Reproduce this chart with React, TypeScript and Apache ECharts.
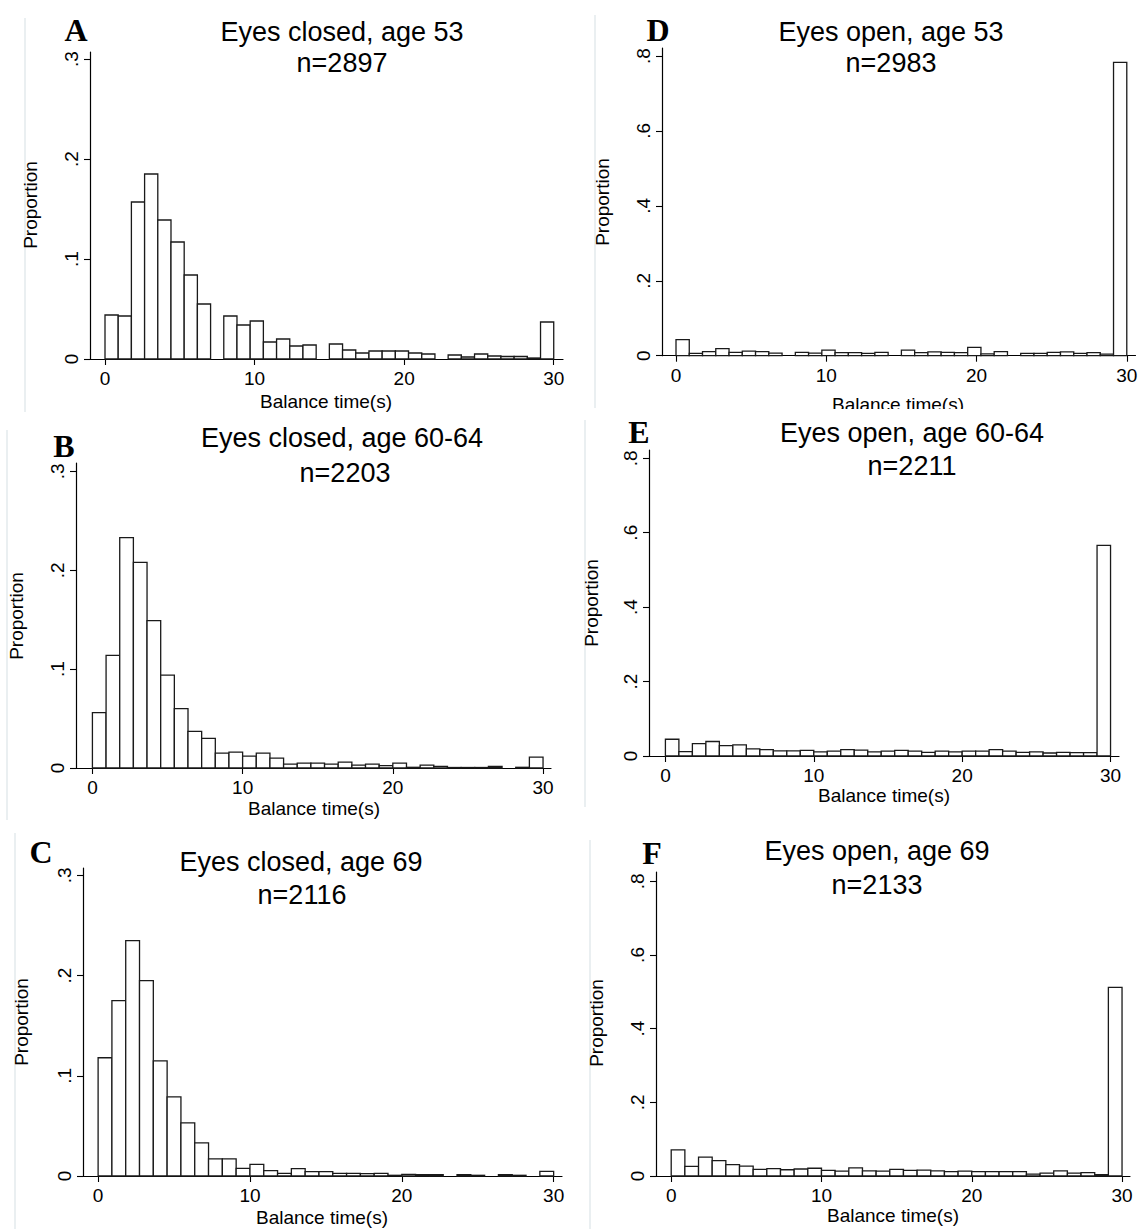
import React, { useEffect, useRef } from "react";
import * as echarts from "echarts";

// ---------- data ----------
const X_RANGE_MAX = 30; // histogram range 0..30 s
const X_TICKS = [0, 10, 20, 30];
const Y_TICKS_CLOSED = [0, 0.1, 0.2, 0.3];
const Y_TICKS_OPEN = [0, 0.2, 0.4, 0.6, 0.8];

const panelLetters = ["A", "D", "B", "E", "C", "F"];
const panelTitles = [
  "Eyes closed, age 53",
  "Eyes open, age 53",
  "Eyes closed, age 60-64",
  "Eyes open, age 60-64",
  "Eyes closed, age 69",
  "Eyes open, age 69",
];
const panelSampleSizes = ["n=2897", "n=2983", "n=2203", "n=2211", "n=2116", "n=2133"];
const xAxisTitle = "Balance time(s)";
const yAxisTitle = "Proportion";

// proportions per bin (34 bins for A/D, 33 bins for others)
const closed53 = [
  0.044, 0.043, 0.157, 0.185, 0.139, 0.117, 0.084, 0.055, 0, 0.043, 0.034, 0.038,
  0.017, 0.02, 0.013, 0.014, 0, 0.015, 0.009, 0.006, 0.008, 0.008, 0.008, 0.006,
  0.005, 0, 0.004, 0.002, 0.005, 0.003, 0.0025, 0.0025, 0.001, 0.037,
];
const open53 = [
  0.043, 0.006, 0.011, 0.019, 0.009, 0.012, 0.011, 0.007, 0, 0.009, 0.007, 0.015,
  0.008, 0.008, 0.006, 0.009, 0, 0.015, 0.008, 0.01, 0.009, 0.008, 0.022, 0.005,
  0.011, 0, 0.006, 0.006, 0.009, 0.01, 0.006, 0.008, 0.004, 0.783,
];
const closed6064 = [
  0.056, 0.114, 0.233, 0.208, 0.149, 0.094, 0.06, 0.037, 0.03, 0.015, 0.016,
  0.012, 0.015, 0.01, 0.004, 0.005, 0.005, 0.004, 0.006, 0.003, 0.004, 0.0025,
  0.005, 0.0007, 0.003, 0.0017, 0.0005, 0.0005, 0.0005, 0.0015, 0, 0.0007, 0.011,
];
const open6064 = [
  0.045, 0.012, 0.033, 0.039, 0.028, 0.03, 0.019, 0.017, 0.014, 0.014, 0.015,
  0.011, 0.013, 0.017, 0.016, 0.011, 0.013, 0.015, 0.013, 0.01, 0.013, 0.011,
  0.013, 0.013, 0.017, 0.013, 0.01, 0.011, 0.008, 0.01, 0.009, 0.009, 0.566,
];
const closed69 = [
  0.118, 0.175, 0.235, 0.195, 0.115, 0.079, 0.053, 0.033, 0.017, 0.017, 0.0077,
  0.0117, 0.0053, 0.0027, 0.0073, 0.0043, 0.0043, 0.0027, 0.0027, 0.0023, 0.0027, 0.0007,
  0.0017, 0.0013, 0.0013, 0, 0.0013, 0.0007, 0, 0.0013, 0.0007, 0, 0.0047,
];
const open69 = [
  0.071, 0.026, 0.051, 0.042, 0.031, 0.027, 0.018, 0.02, 0.017, 0.019, 0.021,
  0.015, 0.013, 0.022, 0.014, 0.013, 0.018, 0.015, 0.016, 0.014, 0.012, 0.013,
  0.012, 0.012, 0.012, 0.012, 0.005, 0.008, 0.014, 0.008, 0.009, 0.004, 0.512,
];
const panelValues = [closed53, open53, closed6064, open6064, closed69, open69];
const panelYTicks = [Y_TICKS_CLOSED, Y_TICKS_OPEN, Y_TICKS_CLOSED, Y_TICKS_OPEN, Y_TICKS_CLOSED, Y_TICKS_OPEN];

// ---------- layout ----------
const layouts = [
  { grid: { left: 90, top: 52, width: 473, height: 307 }, xMin: -1.003, xMax: 30.62, yMax: 0.307,
    letter: [76, 30], t1: [342, 32], t2: [342, 63], ylab: [30, 205], xlab: [326, 401], border: [25, 18, 25, 412] },
  { grid: { left: 662, top: 48, width: 473.5, height: 307.7 }, xMin: -0.932, xMax: 30.58, yMax: 0.8214,
    letter: [658, 30], t1: [891, 32], t2: [891, 63], ylab: [602, 202], xlab: [898, 404], border: [595, 15, 595, 408] },
  { grid: { left: 76, top: 463, width: 475, height: 305 }, xMin: -1.093, xMax: 30.53, yMax: 0.3085,
    letter: [64, 446], t1: [342, 438], t2: [345, 473], ylab: [16, 616], xlab: [314, 808], border: [7, 430, 7, 820] },
  { grid: { left: 649, top: 450, width: 470, height: 306 }, xMin: -1.106, xMax: 30.57, yMax: 0.8223,
    letter: [639, 432], t1: [912, 433], t2: [912, 466], ylab: [591, 603], xlab: [884, 795], border: [585, 420, 585, 807] },
  { grid: { left: 83, top: 868, width: 479, height: 308 }, xMin: -0.995, xMax: 30.55, yMax: 0.3074,
    letter: [41, 852], t1: [301, 862], t2: [302, 895], ylab: [21, 1022], xlab: [322, 1217], border: [15, 833, 15, 1229] },
  { grid: { left: 656, top: 872, width: 474, height: 304 }, xMin: -1.012, xMax: 30.53, yMax: 0.8252,
    letter: [652, 853], t1: [877, 851], t2: [877, 885], ylab: [596, 1023], xlab: [893, 1215], border: [590, 840, 590, 1229] },
];

const SANS = '"Liberation Sans", Arial, Helvetica, sans-serif';
const SERIF = '"Liberation Serif", "Times New Roman", serif';

function fmtY(v: number) {
  if (v === 0) return "0";
  return String(Math.round(v * 10) / 10).replace(/^0/, "");
}

function txt(text: string, x: number, y: number, size: number, family: string, weight = "normal", rotation = 0) {
  return {
    type: "text",
    x,
    y,
    rotation,
    z: 10,
    style: {
      text,
      fill: "#000",
      fontSize: size,
      fontFamily: family,
      fontWeight: weight,
      align: "center",
      verticalAlign: "middle",
      textAlign: "center",
      textVerticalAlign: "middle",
    },
  };
}

export default function App() {
  const ref = useRef<HTMLDivElement>(null);

  useEffect(() => {
    if (!ref.current) return;
    const chart = echarts.init(ref.current, null, { renderer: "svg" });

    const grids: any[] = [];
    const xAxes: any[] = [];
    const yAxes: any[] = [];
    const series: any[] = [];
    const graphics: any[] = [];

    layouts.forEach((L, idx) => {
      const values = panelValues[idx];
      const binW = X_RANGE_MAX / values.length;
      grids.push({ ...L.grid, containLabel: false });
      xAxes.push({
        type: "value",
        gridIndex: idx,
        min: L.xMin,
        max: L.xMax,
        splitLine: { show: false },
        axisLine: { show: true, onZero: false, lineStyle: { color: "#000", width: 1.2 } },
        axisTick: { show: true, length: 6, customValues: X_TICKS, lineStyle: { color: "#000", width: 1.1 } },
        axisLabel: {
          show: true,
          customValues: X_TICKS,
          margin: 10,
          fontSize: 19,
          fontFamily: SANS,
          color: "#000",
          formatter: (v: number) => String(v),
        },
      });
      yAxes.push({
        type: "value",
        gridIndex: idx,
        min: 0,
        max: L.yMax,
        splitLine: { show: false },
        axisLine: { show: true, onZero: false, lineStyle: { color: "#000", width: 1.2 } },
        axisTick: { show: true, length: 6, customValues: panelYTicks[idx], lineStyle: { color: "#000", width: 1.1 } },
        axisLabel: {
          show: true,
          customValues: panelYTicks[idx],
          rotate: 90,
          margin: 9,
          fontSize: 19,
          fontFamily: SANS,
          color: "#000",
          formatter: (v: number) => fmtY(v),
        },
      });
      const data = values
        .map((v, i) => [i * binW, (i + 1) * binW, v])
        .filter((d) => d[2] > 0);
      series.push({
        type: "custom",
        xAxisIndex: idx,
        yAxisIndex: idx,
        encode: { x: [0, 1], y: 2 },
        data,
        renderItem: (params: any, api: any) => {
          const x0 = api.value(0);
          const x1 = api.value(1);
          const v = api.value(2);
          const p0 = api.coord([x0, 0]);
          const p1 = api.coord([x1, v]);
          return {
            type: "rect",
            shape: { x: p0[0], y: p1[1], width: p1[0] - p0[0], height: p0[1] - p1[1] },
            style: { fill: "#ffffff", stroke: "#1a1a1a", lineWidth: 1.3 },
          };
        },
      });

      // faint image border
      graphics.push({
        type: "line",
        z: 1,
        shape: { x1: L.border[0], y1: L.border[1], x2: L.border[2], y2: L.border[3] },
        style: { stroke: "#e3eaec", lineWidth: 1.5 },
      });
      graphics.push(txt(panelLetters[idx], L.letter[0], L.letter[1], 32, SERIF, "bold"));
      graphics.push(txt(panelTitles[idx], L.t1[0], L.t1[1], 27, SANS));
      graphics.push(txt(panelSampleSizes[idx], L.t2[0], L.t2[1], 27, SANS));
      graphics.push(txt(yAxisTitle, L.ylab[0], L.ylab[1], 19, SANS, "normal", Math.PI / 2));
      graphics.push(txt(xAxisTitle, L.xlab[0], L.xlab[1], 19, SANS));
    });

    // cropped bottom of panel D
    graphics.push({
      type: "rect",
      z: 20,
      shape: { x: 590, y: 409, width: 557, height: 10 },
      style: { fill: "#ffffff" },
    });

    chart.setOption({
      animation: false,
      backgroundColor: "#ffffff",
      grid: grids,
      xAxis: xAxes,
      yAxis: yAxes,
      series,
      graphic: { elements: graphics },
    });

    return () => chart.dispose();
  }, []);

  return (
    <div
      ref={ref}
      style={{ position: "fixed", left: 0, top: 0, width: 1147, height: 1229, background: "#fff" }}
    />
  );
}
